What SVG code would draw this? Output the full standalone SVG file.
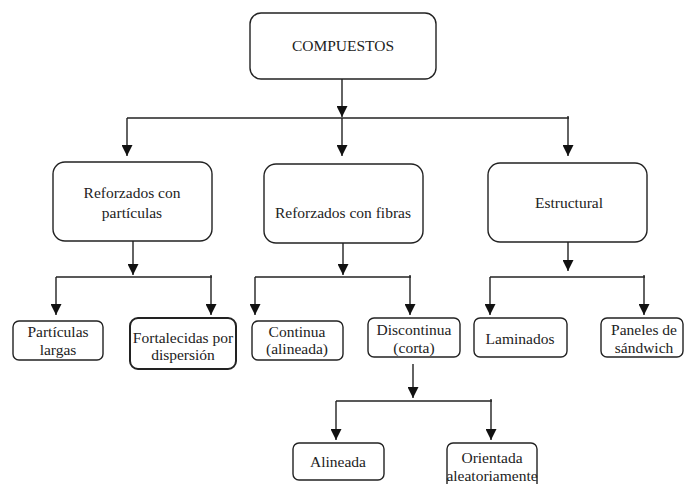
<svg xmlns="http://www.w3.org/2000/svg" width="686" height="484" viewBox="0 0 686 484">
  <style>
    .box { fill: #ffffff; stroke: #222222; stroke-width: 1.4; }
    .thick { stroke-width: 2; }
    .lbl { font-family: Liberation Serif, Times New Roman, Times, DejaVu Serif, Noto Serif, FreeSerif, serif; font-size: 15.5px; fill: #222222; text-anchor: middle; }
    .wire { fill: none; stroke: #222222; stroke-width: 1.4; }
    .arr { fill: none; stroke: #222222; stroke-width: 1.4; marker-end: url(#head); }
  </style>
  <defs>
    <marker id="head" viewBox="0 0 10 10" refX="10" refY="5" markerUnits="userSpaceOnUse" markerWidth="11" markerHeight="11" orient="auto">
      <path d="M0,0 L10,5 L0,10 z" fill="#111111"/>
    </marker>
  </defs>
  <rect width="686" height="484" fill="#ffffff"/>

  <g id="connectors">
    <!-- root to first level -->
    <line class="arr" x1="342" y1="79" x2="342" y2="117"/>
    <line class="wire" x1="127" y1="118" x2="569" y2="118"/>
    <line class="arr" x1="342" y1="118" x2="342" y2="156"/>
    <line class="arr" x1="127" y1="118" x2="127" y2="156"/>
    <line class="arr" x1="568" y1="116" x2="568" y2="156"/>

    <!-- particle-reinforced branch -->
    <line class="arr" x1="133" y1="241" x2="133" y2="275"/>
    <line class="wire" x1="56" y1="277" x2="212" y2="277"/>
    <line class="arr" x1="56" y1="277" x2="56" y2="315"/>
    <line class="arr" x1="211" y1="275" x2="211" y2="315"/>

    <!-- fibre-reinforced branch -->
    <line class="arr" x1="343" y1="243" x2="343" y2="275"/>
    <line class="wire" x1="255" y1="277" x2="411" y2="277"/>
    <line class="arr" x1="255" y1="277" x2="255" y2="315"/>
    <line class="arr" x1="410" y1="275" x2="410" y2="315"/>

    <!-- structural branch -->
    <line class="arr" x1="568" y1="237" x2="568" y2="271"/>
    <line class="wire" x1="490" y1="277" x2="645" y2="277"/>
    <line class="arr" x1="490" y1="277" x2="490" y2="315"/>
    <line class="arr" x1="644" y1="275" x2="644" y2="315"/>

    <!-- discontinuous fibre branch -->
    <line class="arr" x1="413" y1="364" x2="413" y2="398"/>
    <line class="wire" x1="336" y1="401" x2="492" y2="401"/>
    <line class="arr" x1="336" y1="401" x2="336" y2="440"/>
    <line class="arr" x1="491" y1="399" x2="491" y2="440"/>
  </g>

  <g id="compuestos">
    <rect class="box" x="250" y="13" width="186" height="66" rx="11"/>
    <text class="lbl" x="343" y="51">COMPUESTOS</text>
  </g>

  <g id="reforzados-particulas">
    <rect class="box" x="53" y="162" width="159" height="79" rx="12"/>
    <text class="lbl" x="132" y="198">Reforzados con</text>
    <text class="lbl" x="132" y="218">partículas</text>
  </g>

  <g id="reforzados-fibras">
    <rect class="box" x="264" y="164" width="159" height="79" rx="12"/>
    <text class="lbl" x="343" y="218">Reforzados con fibras</text>
  </g>

  <g id="estructural">
    <rect class="box" x="488" y="163" width="159" height="79" rx="12"/>
    <text class="lbl" x="569" y="208">Estructural</text>
  </g>

  <g id="particulas-largas">
    <rect class="box" x="13" y="321" width="90" height="39" rx="6"/>
    <text class="lbl" x="58" y="337">Partículas</text>
    <text class="lbl" x="58" y="355">largas</text>
  </g>

  <g id="fortalecidas-dispersion">
    <rect class="box thick" x="130" y="318" width="106" height="51" rx="8"/>
    <text class="lbl" x="183" y="343">Fortalecidas por</text>
    <text class="lbl" x="183" y="360">dispersión</text>
  </g>

  <g id="continua">
    <rect class="box" x="252" y="321" width="91" height="39" rx="6"/>
    <text class="lbl" x="297" y="337">Continua</text>
    <text class="lbl" x="297" y="354">(alineada)</text>
  </g>

  <g id="discontinua">
    <rect class="box" x="368" y="318" width="92" height="39" rx="6"/>
    <text class="lbl" x="414" y="335">Discontinua</text>
    <text class="lbl" x="414" y="353">(corta)</text>
  </g>

  <g id="laminados">
    <rect class="box" x="474" y="318" width="93" height="39" rx="6"/>
    <text class="lbl" x="520" y="344">Laminados</text>
  </g>

  <g id="paneles-sandwich">
    <rect class="box" x="601" y="318" width="82" height="39" rx="6"/>
    <text class="lbl" x="644" y="335">Paneles de</text>
    <text class="lbl" x="644" y="353">sándwich</text>
  </g>

  <g id="alineada">
    <rect class="box" x="293" y="443" width="91" height="37" rx="6"/>
    <text class="lbl" x="338" y="467">Alineada</text>
  </g>

  <g id="orientada-aleatoriamente">
    <rect class="box" x="447" y="443" width="90" height="50" rx="6"/>
    <text class="lbl" x="492" y="463">Orientada</text>
    <text class="lbl" x="492" y="481">aleatoriamente</text>
  </g>
</svg>
